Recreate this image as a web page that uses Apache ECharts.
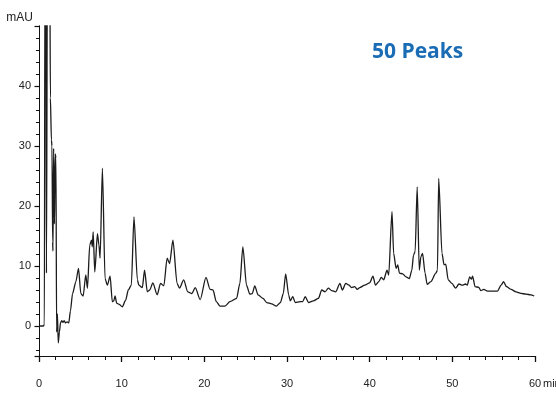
<!DOCTYPE html>
<html>
<head>
<meta charset="utf-8">
<script src="https://cdn.jsdelivr.net/npm/echarts@6/dist/echarts.min.js"></script>
<style>html,body{margin:0;padding:0;background:#fff}#c{width:556px;height:394px}#log{position:absolute;left:80px;top:60px;font:9px monospace;color:red;width:400px;white-space:pre-wrap}</style>
</head>
<body>
<div id="c"></div>
<div id="log"></div>
<script>
window.onerror=function(m){document.getElementById('log').textContent+='ERR '+m+'\n';};
// retention time (min)
var times = [0,0.55,0.65,0.72,0.82,0.9,1.02,1.15,1.3,1.38,1.5,1.57,1.65,1.69,1.77,1.87,1.96,2.05,2.13,2.23,2.33,2.47,2.6,2.75,2.9,3.05,3.2,3.4,3.6,3.8,4.06,4.46,4.78,5.06,5.34,5.66,5.86,6.14,6.35,6.45,6.55,6.75,7.07,7.25,7.39,7.67,7.99,8.27,8.6,8.87,9.05,9.2,9.4,9.7,10.08,10.48,10.8,11.17,11.49,11.9,12.08,12.5,12.77,13.1,13.4,13.77,14.3,14.7,15.1,15.5,15.8,16.2,16.7,17.0,17.5,18.0,18.5,18.9,19.5,20.2,20.7,21.05,21.45,21.9,22.5,23.1,23.9,24.3,24.66,25.1,25.5,25.8,26.1,26.5,27.1,27.55,28.15,28.7,29.2,29.55,29.84,30.2,30.4,30.7,31.0,31.6,31.9,32.2,32.6,33.2,33.8,34.2,34.6,35.0,35.4,35.9,36.4,36.7,37.1,37.5,37.8,38.2,38.5,38.8,39.4,40.0,40.4,40.7,41.1,41.4,41.7,42.1,42.3,42.7,42.9,43.2,43.4,43.6,44.0,44.4,44.8,45.1,45.3,45.5,45.75,46.0,46.2,46.4,46.7,46.95,47.4,48.0,48.2,48.35,48.75,49.0,49.2,49.5,49.95,50.4,50.8,51.2,51.6,51.8,52.1,52.3,52.45,52.75,53.2,53.45,53.8,54.25,55.45,55.9,56.2,56.55,57.1,57.7,58.3,58.9,59.5,59.9];
// absorbance (mAU)
var absorbance = [0,0,0.3,62,62,8.8,62,62,62,38,31,30,14,12.5,29.6,17,28.7,28,-1,2,-2.8,-1,0.5,0.9,0.6,0.9,0.5,0.7,0.5,2.5,5.4,7.4,9.6,5.4,5.0,8.5,6.3,13.5,14.3,13.2,15.7,9.0,15.4,13.5,11.3,26.3,7.9,6.8,8.3,4.05,4.2,5.0,3.8,3.6,3.2,4.3,6.0,6.8,18.2,7.7,6.8,6.4,9.3,5.7,6.0,7.2,5.2,7.1,6.7,11.3,10.4,14.3,7.1,6.3,7.7,5.7,5.4,6.4,4.4,8.1,6.1,6.0,4.05,3.3,3.3,4.05,4.6,7.1,13.2,6.8,5.3,5.4,6.7,5.2,4.6,3.9,3.7,3.3,3.9,5.4,8.7,5.2,4.2,4.9,3.9,4.05,4.05,4.9,3.9,4.2,4.6,6.0,5.7,6.3,5.9,5.7,7.1,6.0,7.1,6.8,6.4,6.55,6.1,6.4,6.8,7.2,8.3,6.8,7.4,8.1,7.7,9.3,8.5,19.05,12.1,9.6,10.2,8.8,8.7,8.2,7.9,9.3,11.8,12.4,23.2,9.3,11.55,12.1,8.8,6.95,7.4,8.8,9.3,24.6,12.1,10.2,10.3,7.7,7.1,6.3,7.0,6.8,7.0,6.8,8.2,7.8,8.3,6.55,6.45,5.9,6.1,5.8,5.8,6.8,7.4,6.55,6.1,5.7,5.45,5.3,5.2,5.0];
var yLabelValues = [0,10,20,30,40];
var titleText = '50 Peaks';
var yUnit = 'mAU';
var xUnit = 'min';

var data = times.map(function(t,i){return [t, absorbance[i]];});
var chart = echarts.init(document.getElementById('c'));
chart.setOption({
  animation:false,
  backgroundColor:'#fff',
  title:{text:titleText,left:367,top:37,textStyle:{fontFamily:'Open Sans',fontWeight:'bold',fontSize:21,color:'#1a6db5'}},
  grid:{left:39,right:21,top:26,bottom:38},
  xAxis:[
    {type:'value',min:0,max:60,interval:10,
      axisLine:{show:true,onZero:false,lineStyle:{color:'#111',width:1}},
      axisTick:{show:true,length:6,lineStyle:{color:'#111',width:1.3}},
      splitLine:{show:false},
      axisLabel:{margin:22,fontFamily:'Liberation Sans',fontSize:11,color:'#222'}},
    {type:'value',min:0,max:60,interval:2,position:'bottom',
      axisLine:{show:false,onZero:false},
      axisTick:{show:true,length:4,lineStyle:{color:'#111',width:1}},
      axisLabel:{show:false},splitLine:{show:false}}
  ],
  yAxis:[
    {type:'value',min:-5,max:50,splitNumber:5,position:'left',
      axisLine:{show:true,onZero:false,lineStyle:{color:'#111',width:1}},
      axisTick:{show:true,length:4.5,lineStyle:{color:'#111',width:1.2}},
      axisLabel:{margin:8,fontFamily:'Liberation Sans',fontSize:11,color:'#222',
        formatter:function(v){return yLabelValues.indexOf(v)>=0?String(v):'';}},
      splitLine:{show:false},
      name:yUnit,nameLocation:'end',nameGap:2,
      nameTextStyle:{fontFamily:'Liberation Sans',fontSize:12,color:'#222',align:'right',verticalAlign:'bottom',padding:[0,6,0,0]}},
    {type:'value',min:-5,max:50,splitNumber:28,position:'left',
      axisLine:{show:true,onZero:false,lineStyle:{color:'#111',width:1}},
      axisTick:{show:true,length:3,lineStyle:{color:'#111',width:1}},
      axisLabel:{show:false},splitLine:{show:false}}
  ],
  graphic:[{type:'text',left:543,top:378,style:{text:xUnit,fontFamily:'Liberation Sans',fontSize:11,fill:'#222'}}],
  series:[{type:'line',data:data,xAxisIndex:0,yAxisIndex:0,showSymbol:false,smooth:0.25,smoothMonotone:'x',clip:true,
    lineStyle:{color:'#1c1c1c',width:1.3}}]
});
</script>
</body>
</html>
